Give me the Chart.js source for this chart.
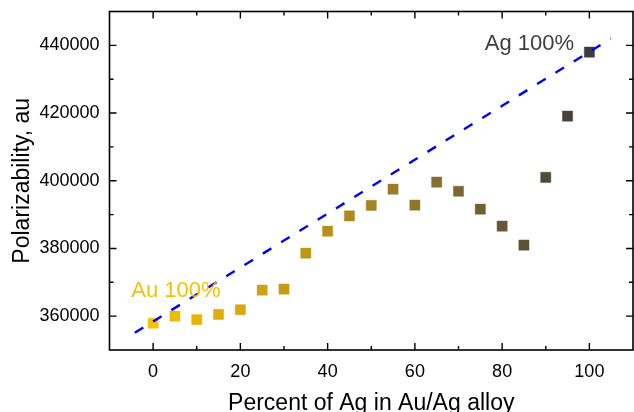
<!DOCTYPE html>
<html>
<head>
<meta charset="utf-8">
<script src="https://cdn.jsdelivr.net/npm/chart.js@4.4.1/dist/chart.umd.min.js"></script>
<style>
    html, body { margin: 0; padding: 0; background: #fff; }
    #wrap { width: 634px; height: 412px; }
</style>
</head>
<body>
<div id="wrap"><canvas id="polarChart"></canvas></div>
<script>
// Au/Ag alloy composition vs. polarizability
const agPercent = [0, 5, 10, 15, 20, 25, 30, 35, 40, 45, 50, 55, 60, 65, 70, 75, 80, 85, 90, 95, 100];
const polarizability = [357900, 360000, 359000, 360500, 361900, 367700, 368000, 378600, 385100, 389600,
    392700, 397500, 392800, 399600, 396900, 391600, 386600, 381000, 401000, 419100, 438000];

// linear trend line end points
const trendX = [-4.2, 104.9];
const trendY = [355100, 442000];

// axis ticks
const xMajorTicks = [0, 20, 40, 60, 80, 100];
const xMinorTicks = [10, 30, 50, 70, 90];
const yMajorTicks = [360000, 380000, 400000, 420000, 440000];
const yMinorTicks = [370000, 390000, 410000, 430000];

var FONT = "'Liberation Sans', Arial, sans-serif";

// gold (pure Au) -> brown (50/50) -> dark grey (pure Ag)
var colGold = [247, 192, 0];
var colMid = [165, 132, 35];
var colGrey = [60, 60, 62];

function mixColor(pct, alpha) {
    var from = pct <= 50 ? colGold : colMid;
    var to = pct <= 50 ? colMid : colGrey;
    var t = pct <= 50 ? pct / 50 : (pct - 50) / 50;
    var c = from.map(function (v, i) { return Math.round(v + (to[i] - v) * t); });
    return 'rgba(' + c[0] + ',' + c[1] + ',' + c[2] + ',' + alpha + ')';
}

var scatterPoints = agPercent.map(function (v, i) { return { x: v, y: polarizability[i] }; });
var trendPoints = trendX.map(function (v, i) { return { x: v, y: trendY[i] }; });

// no extra room for tick labels, the plot box is fixed
function noLabelPadding(s) {
    s.paddingTop = 0;
    s.paddingBottom = 0;
    s.paddingLeft = 0;
    s.paddingRight = 0;
}

// frame with inward ticks on all four sides + the two end labels
var frameTicks = {
    id: 'frameTicks',
    afterDraw: function (chart) {
        var ctx = chart.ctx;
        var a = chart.chartArea;
        var xs = chart.scales.x;
        var ys = chart.scales.y;

        ctx.save();
        ctx.strokeStyle = '#000';
        ctx.lineWidth = 1.6;
        ctx.strokeRect(a.left, a.top, a.right - a.left, a.bottom - a.top);

        ctx.lineWidth = 1.4;
        ctx.beginPath();
        function xTick(v, len) {
            var px = xs.getPixelForValue(v);
            ctx.moveTo(px, a.bottom); ctx.lineTo(px, a.bottom - len);
            ctx.moveTo(px, a.top); ctx.lineTo(px, a.top + len);
        }
        function yTick(v, len) {
            var py = ys.getPixelForValue(v);
            ctx.moveTo(a.left, py); ctx.lineTo(a.left + len, py);
            ctx.moveTo(a.right, py); ctx.lineTo(a.right - len, py);
        }
        xMajorTicks.forEach(function (v) { xTick(v, 7); });
        xMinorTicks.forEach(function (v) { xTick(v, 4); });
        yMajorTicks.forEach(function (v) { yTick(v, 7); });
        yMinorTicks.forEach(function (v) { yTick(v, 4); });
        ctx.stroke();

        ctx.font = '22px ' + FONT;
        ctx.textBaseline = 'middle';
        ctx.textAlign = 'left';
        ctx.fillStyle = mixColor(0, 1);
        ctx.fillText('Au 100%', xs.getPixelForValue(-5), ys.getPixelForValue(367500));
        ctx.textAlign = 'right';
        ctx.fillStyle = '#404040';
        ctx.fillText('Ag 100%', xs.getPixelForValue(96.5), ys.getPixelForValue(440300));
        ctx.restore();
    }
};

var ctx = document.getElementById('polarChart').getContext('2d');
var myChart = new Chart(ctx, {
    type: 'scatter',
    data: {
        datasets: [
            {
                type: 'line',
                data: trendPoints,
                borderColor: '#0000ff',
                borderWidth: 2.4,
                borderDash: [10, 11.5],
                pointRadius: 0,
                fill: false
            },
            {
                data: scatterPoints,
                pointStyle: 'rect',
                pointRadius: 7.2,
                borderWidth: 1,
                backgroundColor: function (c) { return mixColor(agPercent[c.dataIndex] || 0, 1); },
                borderColor: function (c) { return mixColor(agPercent[c.dataIndex] || 0, 0.45); }
            }]
    },
    options: {
        responsive: true,
        maintainAspectRatio: false,
        animation: false,
        devicePixelRatio: 1,
        layout: {
            autoPadding: false,
            padding: { top: 11.5, right: 1, left: 0, bottom: 0 }
        },
        plugins: {
            legend: { display: false },
            tooltip: { enabled: false }
        },
        scales: {
            x: {
                type: 'linear',
                min: -10,
                max: 110,
                afterBuildTicks: function (s) { s.ticks = xMajorTicks.map(function (v) { return { value: v }; }); },
                afterFit: function (s) { s.height = 62; noLabelPadding(s); },
                grid: { display: false, drawTicks: false },
                border: { display: false },
                ticks: {
                    color: '#000',
                    padding: 11,
                    maxRotation: 0,
                    font: { family: FONT, size: 18 },
                    callback: function (v) { return String(v); }
                },
                title: {
                    display: true,
                    text: 'Percent of Ag in Au/Ag alloy',
                    color: '#000',
                    font: { family: FONT, size: 23, lineHeight: 0.7 },
                    padding: { top: 0, bottom: 0 }
                }
            },
            y: {
                type: 'linear',
                min: 350000,
                max: 450000,
                afterBuildTicks: function (s) { s.ticks = yMajorTicks.map(function (v) { return { value: v }; }); },
                afterFit: function (s) { s.width = 109.5; noLabelPadding(s); },
                grid: { display: false, drawTicks: false },
                border: { display: false },
                ticks: {
                    color: '#000',
                    padding: 10,
                    font: { family: FONT, size: 18 },
                    callback: function (v) { return String(v); }
                },
                title: {
                    display: true,
                    text: 'Polarizability, au',
                    color: '#000',
                    font: { family: FONT, size: 23, lineHeight: 1 },
                    padding: { top: 11, bottom: 0 }
                }
            }
        }
    },
    plugins: [frameTicks]
});
</script>
</body>
</html>
